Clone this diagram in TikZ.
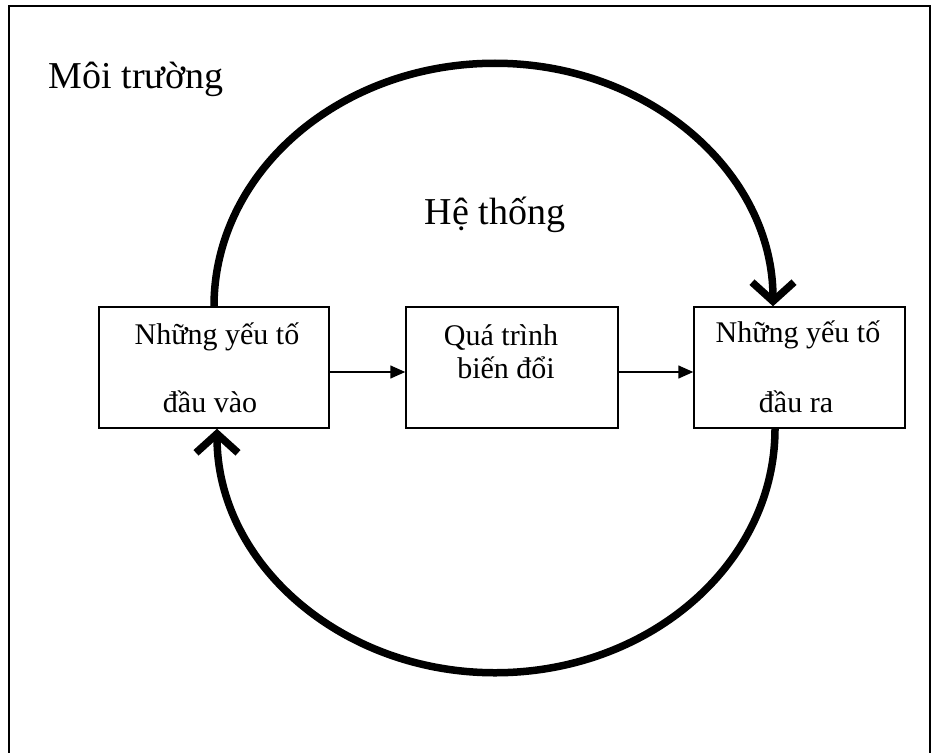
\documentclass[tikz,border=0pt]{standalone}
\usepackage{fontspec}
\setmainfont{Liberation Serif}
\usetikzlibrary{arrows.meta}
\pgfdeclarelayer{bg}
\pgfsetlayers{bg,main}
\begin{document}
\begin{tikzpicture}[x=1pt,y=-1pt,
  frame/.style={draw, line width=2pt},
  box/.style={draw, line width=1.5pt, fill=white, inner sep=0pt, minimum height=121pt},
  lbl/.style={font=\fontsize{30}{35}\selectfont, anchor=base, inner sep=0pt},
  big/.style={font=\fontsize{38}{44}\selectfont, anchor=base, inner sep=0pt},
  flow/.style={line width=1.5pt, -{Triangle[length=15pt,width=13pt]}},
  loop/.style={line width=7.5pt, -{Straight Barb[length=19pt,width=42pt]}}]
\useasboundingbox (0,0) rectangle (936,752);

% outer frame (environment)
\draw[frame] (9,6) rectangle (930,760);

% titles
\node[big] (env) at (136,88) {Môi trường};
\node[big] (sys) at (495,224) {Hệ thống};

% the three stages
\node[box, minimum width=230pt] (in)   at (214,367.5) {};
\node[box, minimum width=212pt] (proc) at (512,367.5) {};
\node[box, minimum width=211pt] (out)  at (799.5,367.5) {};

\node[lbl] (in1)   at (217,344) {Những yếu tố};
\node[lbl] (in2)   at (210,412) {đầu vào};
\node[lbl] (proc1) at (501,345) {Quá trình};
\node[lbl] (proc2) at (506,378) {biến đổi};
\node[lbl] (out1)  at (798,342) {Những yếu tố};
\node[lbl] (out2)  at (796,412) {đầu ra};

% flow between the stages
\draw[flow] ([yshift=-4.5pt]in.east) -- ([yshift=-4.5pt]proc.west);
\draw[flow] ([yshift=-4.5pt]proc.east) -- ([yshift=-4.5pt]out.west);

% feedback loop around the system
\begin{pgfonlayer}{bg}
\draw[loop] (in.north)
  arc[start angle=180, end angle=90, x radius=281pt, y radius=243pt]
  arc[start angle=90, end angle=0, x radius=278pt, y radius=243pt];
\draw[loop] ([xshift=-24.5pt]out.south)
  arc[start angle=0, end angle=-90, x radius=280pt, y radius=244pt]
  arc[start angle=-90, end angle=-180, x radius=278pt, y radius=244pt];
\end{pgfonlayer}
\end{tikzpicture}
\end{document}
